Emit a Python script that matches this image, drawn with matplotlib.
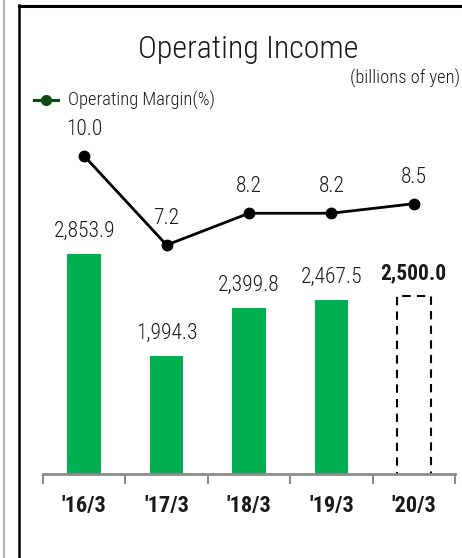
import matplotlib
matplotlib.use("Agg")
import matplotlib.pyplot as plt
from matplotlib import font_manager
from matplotlib.lines import Line2D

names = {f.name for f in font_manager.fontManager.ttflist}
narrow = 'Liberation Sans Narrow' if 'Liberation Sans Narrow' in names else 'Roboto Condensed' if 'Roboto Condensed' in names else 'Liberation Sans'
plt.rcParams['font.family'] = [narrow, 'DejaVu Sans']

years = ["'16/3", "'17/3", "'18/3", "'19/3", "'20/3"]
income = [2853.9, 1994.3, 2399.8, 2467.5, 2500.0]
income_labels = ["2,853.9", "1,994.3", "2,399.8", "2,467.5", "2,500.0"]
margin = [10.0, 7.2, 8.2, 8.2, 8.5]

W, H = 462, 558
fig = plt.figure(figsize=(W / 100, H / 100), dpi=100)

# frame lines
fig.add_artist(Line2D([3.5 / W, 3.5 / W], [0, 1], color='#b0b0b0', lw=1.5))
fig.add_artist(Line2D([18.5 / W, 18.5 / W], [0, 1 - 5 / H], color='black', lw=1.8))
fig.add_artist(Line2D([18.5 / W, 1], [1 - 5.5 / H, 1 - 5.5 / H], color='black', lw=2.2))

# axes: baseline at y=474px, x from 43 to 455px
ax_left, ax_right = 43, 455
ax_bottom, ax_top = 474, 30
ax = fig.add_axes([ax_left / W, 1 - ax_bottom / H, (ax_right - ax_left) / W, (ax_bottom - ax_top) / H])
ax.set_xlim(-0.5, 4.5)
ax.set_ylim(1000, 1000 + (ax_bottom - ax_top) / 0.1187)

x = list(range(len(years)))
ax.bar(x[:4], [v - 1000 for v in income[:4]], bottom=1000, width=0.41, color='#00b050', zorder=2)
ax.bar([4], [income[4] - 1000 + 10], bottom=990, width=0.41, facecolor='white', edgecolor='black',
       linestyle=(0, (4, 3)), linewidth=1.5, zorder=2)

for i, (v, lab) in enumerate(zip(income, income_labels)):
    bold = i == 4
    ax.text(i, v + 100, lab, ha='center', va='bottom', fontsize=15.5,
            fontweight='bold' if bold else 'light', color='#1a1a1a')

for s in ['top', 'right', 'left']:
    ax.spines[s].set_visible(False)
ax.spines['bottom'].set_color('#8c8c8c')
ax.spines['bottom'].set_linewidth(2)
ax.set_yticks([])
ax.set_xticks([-0.5, 0.5, 1.5, 2.5, 3.5, 4.5])
ax.set_xticklabels([])
ax.set_xticks(x, minor=True)
ax.set_xticklabels(years, minor=True, fontsize=16, fontweight='bold', color='#1a1a1a')
ax.tick_params(axis='x', which='major', length=7, width=1.5, color='#8c8c8c', direction='out')
ax.tick_params(axis='x', which='minor', length=0, pad=15)
ax.patch.set_visible(False)

ax2 = ax.twinx()
ax2.set_ylim(0, (ax_bottom - ax_top) / 31.8)
ax2.plot(x, margin, color='black', lw=2, marker='o', markersize=7.5, zorder=3)
for i, m in enumerate(margin):
    ax2.text(i, m + 0.5, f"{m:.1f}", ha='center', va='bottom', fontsize=15.5,
             fontweight='light', color='#1a1a1a')
ax2.axis('off')

# title, unit and legend
fig.text(248 / W, 1 - 50 / H, "Operating Income", ha='center', va='center', fontsize=23,
         fontweight='light', color='#1a1a1a')
fig.text(460 / W, 1 - 78 / H, "(billions of yen)", ha='right', va='center', fontsize=13.3,
         fontweight='light', color='#1a1a1a')
fig.add_artist(Line2D([34 / W, 58 / W], [1 - 100 / H, 1 - 100 / H], color='#0b4a12', lw=2.2))
fig.add_artist(Line2D([46 / W], [1 - 100 / H], color='#0b4a12', marker='o', markersize=7))
fig.text(68 / W, 1 - 100 / H, "Operating Margin(%)", ha='left', va='center', fontsize=13.3,
         fontweight='light', color='#1a1a1a')

fig.savefig("out.png", dpi=100)
